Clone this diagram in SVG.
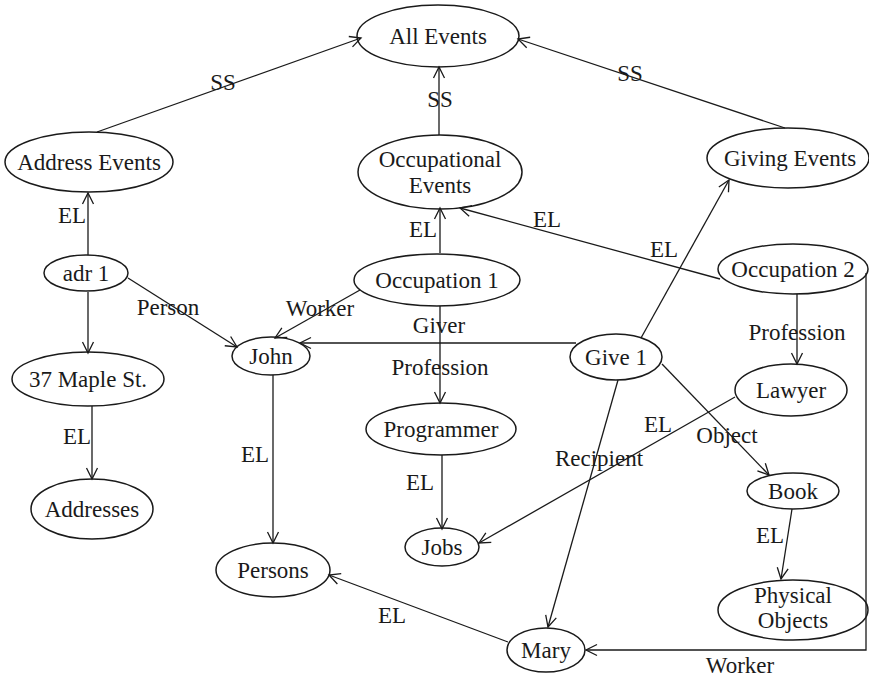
<svg xmlns="http://www.w3.org/2000/svg" width="869" height="682" viewBox="0 0 869 682" font-family="'Liberation Serif', 'Times New Roman', serif">
<defs>
<marker id="arr" markerUnits="userSpaceOnUse" markerWidth="14" markerHeight="14" refX="12" refY="7" orient="auto">
<path d="M1,1.5 L12,7 L1,12.5" fill="none" stroke="#1a1a1a" stroke-width="1.3"/>
</marker>
</defs>
<style>
.n ellipse{fill:none;stroke:#1a1a1a;stroke-width:1.5}
text{font-family:'Liberation Serif','Times New Roman',serif;font-size:23px;fill:#1a1a1a;text-anchor:middle}
#edges line,#edges path{stroke:#1a1a1a;stroke-width:1.3;fill:none}
.a{marker-end:url(#arr)}
</style>
<rect width="869" height="682" fill="#fff"/>
<g id="edges">
<line class="a" x1="97" y1="132" x2="361" y2="38"/>
<line class="a" x1="439" y1="135" x2="439" y2="67"/>
<line class="a" x1="785" y1="128" x2="518" y2="39"/>
<line class="a" x1="88" y1="255" x2="88" y2="193"/>
<line class="a" x1="88" y1="292" x2="88" y2="353"/>
<line class="a" x1="128" y1="278" x2="237" y2="347"/>
<line class="a" x1="92" y1="406" x2="92" y2="479"/>
<line class="a" x1="440" y1="253" x2="440" y2="208"/>
<line class="a" x1="720" y1="279" x2="460" y2="208"/>
<line class="a" x1="360" y1="290" x2="275" y2="338"/>
<line class="a" x1="576" y1="343" x2="300" y2="343"/>
<line class="a" x1="440" y1="306" x2="440" y2="403"/>
<line class="a" x1="641" y1="338" x2="729" y2="180"/>
<line class="a" x1="797" y1="294" x2="797" y2="364"/>
<line class="a" x1="662" y1="364" x2="769" y2="475"/>
<line class="a" x1="618" y1="380" x2="548" y2="627"/>
<line class="a" x1="735" y1="397" x2="479" y2="543"/>
<line class="a" x1="273" y1="375" x2="273" y2="543"/>
<line class="a" x1="442" y1="455" x2="442" y2="529"/>
<line class="a" x1="792" y1="509" x2="781" y2="579"/>
<line class="a" x1="508" y1="642" x2="329" y2="575"/>
<path class="a" d="M866,273 L866,650 L586,650"/>
<text x="223" y="90">SS</text>
<text x="440" y="107">SS</text>
<text x="630" y="81">SS</text>
<text x="72" y="223">EL</text>
<text x="168" y="315">Person</text>
<text x="77" y="444">EL</text>
<text x="423" y="237">EL</text>
<text x="547" y="227">EL</text>
<text x="664" y="257">EL</text>
<text x="320" y="316">Worker</text>
<text x="439" y="333">Giver</text>
<text x="440" y="375">Profession</text>
<text x="797" y="340">Profession</text>
<text x="658" y="432">EL</text>
<text x="727" y="443">Object</text>
<text x="599" y="466">Recipient</text>
<text x="255" y="462">EL</text>
<text x="420" y="490">EL</text>
<text x="770" y="543">EL</text>
<text x="392" y="623">EL</text>
<text x="740" y="673">Worker</text>
</g>
<g id="all-events" class="n"><ellipse cx="438" cy="36" rx="81" ry="31"/><text x="438" y="44">All Events</text></g>
<g id="address-events" class="n"><ellipse cx="89" cy="162" rx="84" ry="30"/><text x="89" y="170">Address Events</text></g>
<g id="occupational-events" class="n"><ellipse cx="440" cy="172" rx="82" ry="37"/><text x="440" y="167">Occupational</text><text x="440" y="193">Events</text></g>
<g id="giving-events" class="n"><ellipse cx="788" cy="158" rx="81" ry="30"/><text x="790" y="166">Giving Events</text></g>
<g id="adr1" class="n"><ellipse cx="86" cy="273" rx="42" ry="18"/><text x="86" y="281">adr 1</text></g>
<g id="maple" class="n"><ellipse cx="88" cy="379" rx="76" ry="27"/><text x="88" y="387">37 Maple St.</text></g>
<g id="john" class="n"><ellipse cx="271" cy="356" rx="39" ry="19"/><text x="271" y="364">John</text></g>
<g id="occupation1" class="n"><ellipse cx="437" cy="280" rx="83" ry="26"/><text x="437" y="288">Occupation 1</text></g>
<g id="occupation2" class="n"><ellipse cx="793" cy="269" rx="75" ry="25"/><text x="793" y="277">Occupation 2</text></g>
<g id="give1" class="n"><ellipse cx="616" cy="357" rx="46" ry="23"/><text x="616" y="365">Give 1</text></g>
<g id="programmer" class="n"><ellipse cx="441" cy="429" rx="75" ry="26"/><text x="441" y="437">Programmer</text></g>
<g id="lawyer" class="n"><ellipse cx="791" cy="390" rx="56" ry="26"/><text x="791" y="398">Lawyer</text></g>
<g id="addresses" class="n"><ellipse cx="92" cy="509" rx="61" ry="30"/><text x="92" y="517">Addresses</text></g>
<g id="persons" class="n"><ellipse cx="273" cy="570" rx="57" ry="27"/><text x="273" y="578">Persons</text></g>
<g id="jobs" class="n"><ellipse cx="442" cy="547" rx="37" ry="19"/><text x="442" y="555">Jobs</text></g>
<g id="book" class="n"><ellipse cx="793" cy="491" rx="46" ry="18"/><text x="793" y="499">Book</text></g>
<g id="physical-objects" class="n"><ellipse cx="793" cy="610" rx="75" ry="30"/><text x="793" y="603">Physical</text><text x="793" y="628">Objects</text></g>
<g id="mary" class="n"><ellipse cx="546" cy="650" rx="39" ry="22"/><text x="546" y="658">Mary</text></g>
</svg>
